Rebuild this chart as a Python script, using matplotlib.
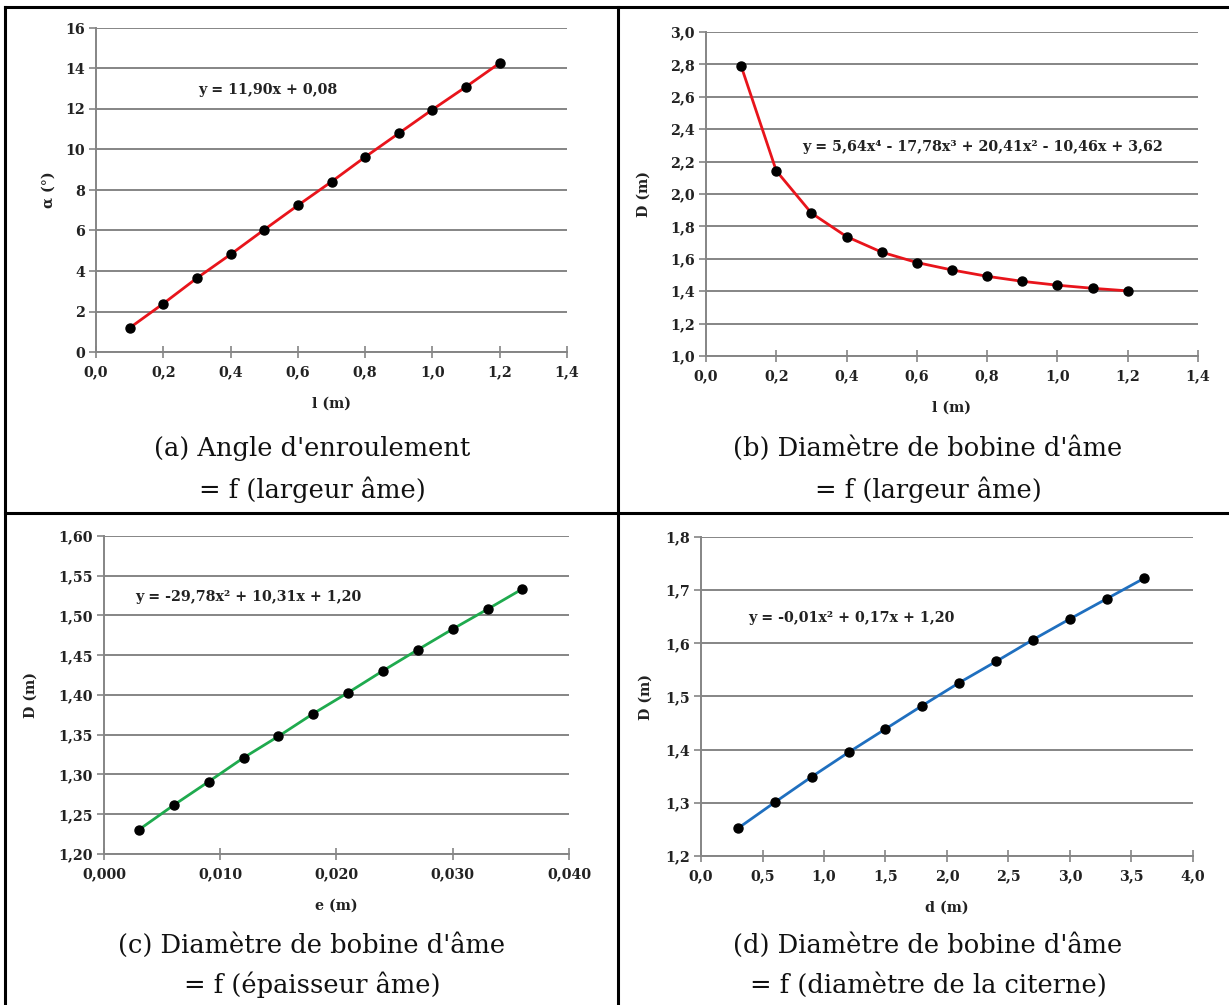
import matplotlib
matplotlib.use("Agg")
import matplotlib.pyplot as plt
from matplotlib.lines import Line2D
from matplotlib.ticker import FuncFormatter, MultipleLocator

# ---------------- data ----------------
l_a = [0.1, 0.2, 0.3, 0.4, 0.5, 0.6, 0.7, 0.8, 0.9, 1.0, 1.1, 1.2]
alpha_a = [1.19, 2.39, 3.65, 4.82, 6.04, 7.24, 8.41, 9.63, 10.80, 11.97, 13.10, 14.27]

l_b = [0.1, 0.2, 0.3, 0.4, 0.5, 0.6, 0.7, 0.8, 0.9, 1.0, 1.1, 1.2]
D_b = [2.79, 2.143, 1.882, 1.737, 1.641, 1.577, 1.531, 1.492, 1.461, 1.437, 1.418, 1.402]

e_c = [0.003, 0.006, 0.009, 0.012, 0.015, 0.018, 0.021, 0.024, 0.027, 0.030, 0.033, 0.036]
D_c = [1.2305, 1.2615, 1.291, 1.321, 1.348, 1.3766, 1.403, 1.4305, 1.457, 1.483, 1.508, 1.5335]

d_d = [0.3, 0.6, 0.9, 1.2, 1.5, 1.8, 2.1, 2.4, 2.7, 3.0, 3.3, 3.6]
D_d = [1.252, 1.301, 1.349, 1.395, 1.439, 1.483, 1.526, 1.566, 1.607, 1.646, 1.684, 1.722]

eq_a = "y = 11,90x + 0,08"
eq_b = "y = 5,64x\u2074 - 17,78x\u00b3 + 20,41x\u00b2 - 10,46x + 3,62"
eq_c = "y = -29,78x\u00b2 + 10,31x + 1,20"
eq_d = "y = -0,01x\u00b2 + 0,17x + 1,20"

cap_a = ["(a) Angle d'enroulement", "= f (largeur âme)"]
cap_b = ["(b) Diamètre de bobine d'âme", "= f (largeur âme)"]
cap_c = ["(c) Diamètre de bobine d'âme", "= f (épaisseur âme)"]
cap_d = ["(d) Diamètre de bobine d'âme", "= f (diamètre de la citerne)"]

# ---------------- figure ----------------
W, H = 1229, 1005
fig = plt.figure(figsize=(W / 100, H / 100), dpi=100)
fig.patch.set_facecolor("white")

TICKFONT = dict(family="DejaVu Serif", weight="bold", size=10.3)
GRID = "#858585"
TXT = "#222222"


def px_axes(L, R, T, B):
    return fig.add_axes([L / W, 1 - B / H, (R - L) / W, (B - T) / H])


def fmt(decimals):
    return FuncFormatter(lambda v, p: f"{v:.{decimals}f}".replace(".", ","))


def make_panel(box, x, y, color, xlim, xstep, xdec, ylim, ystep, ydec,
               xlabel, ylabel, ylabel_px, eq, eq_px, cap, cap_cx, cap_y):
    ax = px_axes(*box)
    ax.plot(x, y, color=color, lw=2.0, zorder=3)
    ax.plot(x, y, ls="none", marker="o", ms=6.5, color="black", zorder=4)
    ax.set_xlim(*xlim)
    ax.set_ylim(*ylim)
    ax.xaxis.set_major_locator(MultipleLocator(xstep))
    ax.yaxis.set_major_locator(MultipleLocator(ystep))
    ax.xaxis.set_major_formatter(fmt(xdec))
    ax.yaxis.set_major_formatter(fmt(ydec))
    ax.grid(axis="y", color=GRID, lw=1.4)
    ax.set_axisbelow(True)
    for s in ("top", "right"):
        ax.spines[s].set_visible(False)
    for s in ("left", "bottom"):
        ax.spines[s].set_color(GRID)
        ax.spines[s].set_linewidth(1.4)
    ax.tick_params(axis="x", direction="inout", length=9, width=1.2, color=GRID, pad=5)
    ax.tick_params(axis="y", direction="out", length=5, width=1.2, color=GRID, pad=3)
    for lab in ax.get_xticklabels() + ax.get_yticklabels():
        lab.set_fontfamily("DejaVu Serif")
        lab.set_fontweight("bold")
        lab.set_fontsize(10.3)
        lab.set_color(TXT)
    L, R, T, B = box
    # axis labels
    fig.text(((L + R) / 2) / W, 1 - (B + 52) / H, xlabel, ha="center", va="center",
             color=TXT, **TICKFONT)
    fig.text(ylabel_px / W, 1 - ((T + B) / 2) / H, ylabel, ha="center", va="center",
             rotation=90, color=TXT, **TICKFONT)
    # equation
    fig.text(eq_px[0] / W, 1 - eq_px[1] / H, eq, ha="left", va="center",
             color=TXT, **TICKFONT)
    # caption
    for line, yy in zip(cap, cap_y):
        fig.text(cap_cx / W, 1 - yy / H, line, ha="center", va="center",
                 family="DejaVu Serif", size=18.5, color="#111111")
    return ax


make_panel((96, 567, 28, 352), l_a, alpha_a, "#e8141b",
           (0, 1.4), 0.2, 1, (0, 16), 2, 0,
           "l (m)", "\u03b1 (°)", 49, eq_a, (198, 90), cap_a, 312, (448, 490))

make_panel((706, 1198, 32, 356), l_b, D_b, "#e8141b",
           (0, 1.4), 0.2, 1, (1.0, 3.0), 0.2, 1,
           "l (m)", "D (m)", 644, eq_b, (802, 147), cap_b, 928, (448, 490))

make_panel((104, 569, 536, 854), e_c, D_c, "#1faa4e",
           (0, 0.040), 0.010, 3, (1.20, 1.60), 0.05, 2,
           "e (m)", "D (m)", 31, eq_c, (135, 597), cap_c, 312, (945, 985))

make_panel((701, 1193, 537, 856), d_d, D_d, "#1f6fbf",
           (0, 4.0), 0.5, 1, (1.2, 1.8), 0.1, 1,
           "d (m)", "D (m)", 646, eq_d, (748, 618), cap_d, 928, (945, 985))


# table borders
def hline(y, x0, x1):
    fig.add_artist(Line2D([x0 / W, x1 / W], [1 - y / H, 1 - y / H], color="black", lw=2.2))


def vline(x, y0, y1):
    fig.add_artist(Line2D([x / W, x / W], [1 - y0 / H, 1 - y1 / H], color="black", lw=2.2))


hline(7, 5, W)
hline(513, 5, W)
vline(5, 7, H)
vline(618, 7, H)

fig.savefig("out.png", dpi=100, facecolor="white")
